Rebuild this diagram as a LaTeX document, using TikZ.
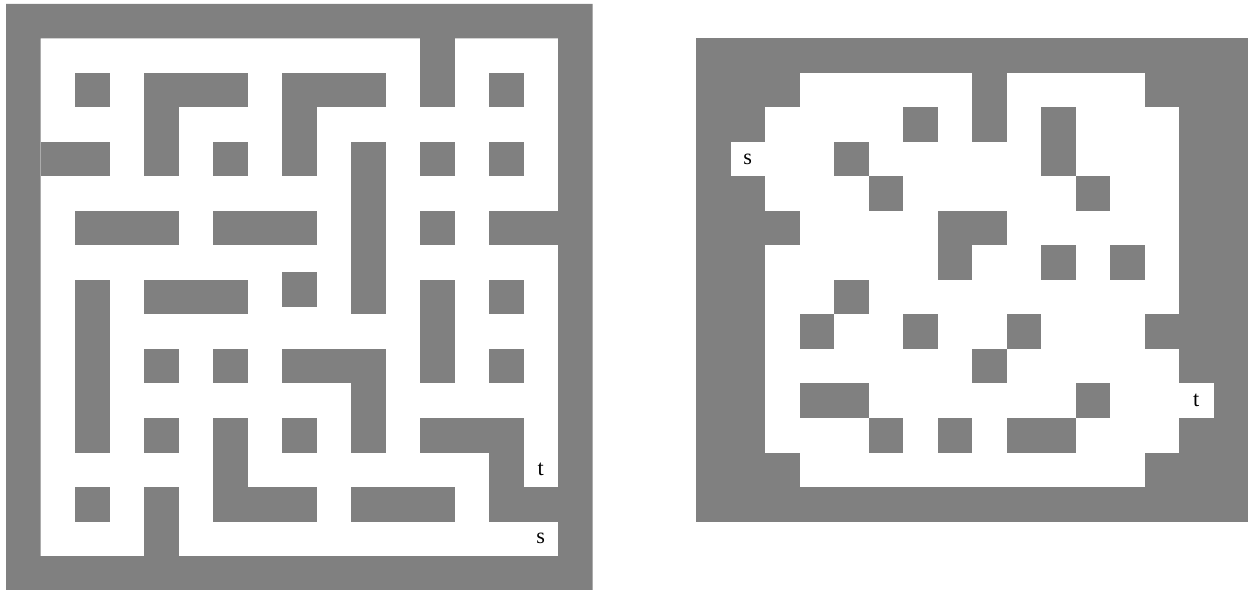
\documentclass[tikz,border=0pt]{standalone}
\usepackage{fontspec}
\setmainfont{Liberation Serif}

\tikzset{
    wall/.style={fill=gray, draw=none},
    endpoint/.style={font=\fontsize{11}{13}\selectfont, inner sep=0pt}
}

\begin{document}
\begin{tikzpicture}[x=0.6cm, y=-0.6cm]
    \useasboundingbox (-0.174,-0.116) rectangle (36.029,16.985);

    % Left maze: frame
    \fill[wall, even odd rule] (0,0) rectangle (17,17) (1,1) rectangle (16,16);

    % Left maze: inner walls
    \foreach \xa/\ya/\xb/\yb in {12/1/13/3, 2/2/3/3, 4/2/7/3, 4/2/5/5, 8/2/11/3, 8/2/9/5, 14/2/15/3,
        1/4/3/5, 6/4/7/5, 10/4/11/9, 12/4/13/5, 14/4/15/5,
        2/6/5/7, 6/6/9/7, 12/6/13/7, 14/6/16/7,
        2/8/3/13, 4/8/7/9, 12/8/13/11, 14/8/15/9,
        4/10/5/11, 6/10/7/11, 8/10/11/11, 10/10/11/13, 14/10/15/11,
        4/12/5/13, 6/12/7/15, 8/12/9/13, 12/12/15/13, 14/12/15/15,
        2/14/3/15, 4/14/5/16, 6/14/9/15, 10/14/13/15, 14/14/16/15}
        \fill[wall] (\xa,\ya) rectangle (\xb,\yb);
    \fill[wall] (8,7.77) rectangle (9,8.77);

    \node[endpoint] (tL) at (15.5,13.5) {t};
    \node[endpoint] (sL) at (15.5,15.5) {s};

    % Right grid
    \begin{scope}[shift={(20,1)}]
        \foreach \xa/\ya/\xb/\yb in {0/0/16/1, 0/13/16/14, 0/0/1/14, 1/0/2/3, 1/4/2/14,
            15/0/16/14, 14/0/15/10, 14/11/15/14,
            2/1/3/2, 2/5/3/6, 2/12/3/13, 13/1/14/2, 13/8/14/9, 13/12/14/13,
            8/1/9/3, 6/2/7/3, 10/2/11/4, 4/3/5/4, 5/4/6/5, 11/4/12/5,
            7/5/9/6, 7/6/8/7, 10/6/11/7, 12/6/13/7, 4/7/5/8,
            3/8/4/9, 6/8/7/9, 9/8/10/9, 8/9/9/10,
            3/10/5/11, 11/10/12/11, 5/11/6/12, 7/11/8/12, 9/11/11/12}
            \fill[wall] (\xa,\ya) rectangle (\xb,\yb);

        \node[endpoint] (sR) at (1.5,3.5) {s};
        \node[endpoint] (tR) at (14.5,10.5) {t};
    \end{scope}

\end{tikzpicture}
\end{document}
